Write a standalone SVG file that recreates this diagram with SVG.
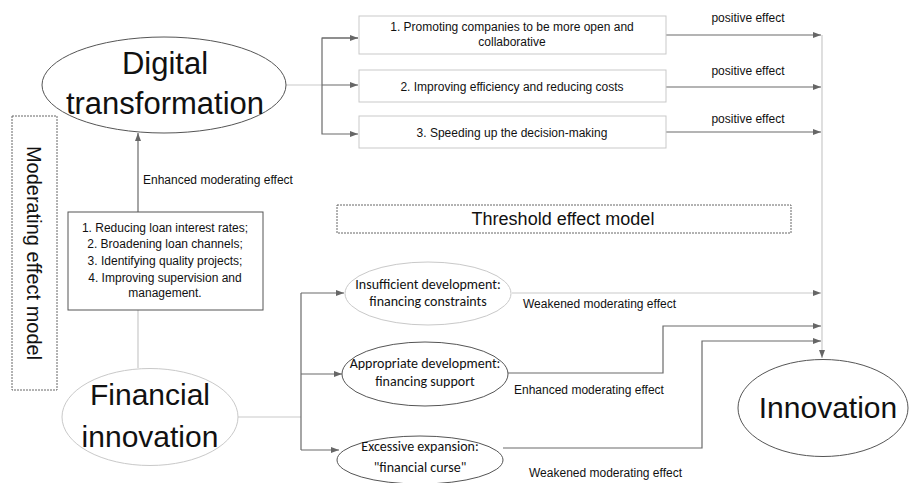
<svg xmlns="http://www.w3.org/2000/svg" width="909" height="483" viewBox="0 0 909 483">
<style>
text{font-family:"Liberation Sans",Arial,sans-serif;fill:#111}
.big{font-size:30px;text-anchor:middle}
.s{font-size:12px}
.c{text-anchor:middle}
.cal{font-family:Carlito,"Liberation Sans",sans-serif;font-size:14px;text-anchor:middle}
.dk{fill:none;stroke:#6a6a6a;stroke-width:1.2}
.lt{fill:none;stroke:#c9c9c9;stroke-width:1.2}
.nd{fill:#fff;stroke:#555;stroke-width:1}
.nl{fill:#fff;stroke:#c9c9c9;stroke-width:1}
.dash{fill:#fff;stroke:#666;stroke-width:1;stroke-dasharray:2 1}
</style>
<defs>
<marker id="ah" viewBox="0 0 8 6" refX="8" refY="3" markerWidth="8" markerHeight="6" markerUnits="userSpaceOnUse" orient="auto"><path d="M0,0 L8,3 L0,6 z" fill="#666"/></marker>
</defs>
<g id="connectors">
<path class="lt" d="M286,85 H322"/>
<path class="dk" d="M322,85 H358" marker-end="url(#ah)"/>
<path class="dk" d="M358,38 H322 V134 H358" marker-end="url(#ah)"/>
<path class="dk" d="M322,38 H358" marker-end="url(#ah)"/>
<path class="dk" d="M666,35 H821" marker-end="url(#ah)"/>
<path class="dk" d="M666,87 H821" marker-end="url(#ah)"/>
<path class="dk" d="M666,132 H821" marker-end="url(#ah)"/>
<path class="lt" d="M822,35 V350"/>
<path class="lt" d="M822,350 V358" marker-end="url(#ah)"/>
<path class="dk" d="M138,212 V133" marker-end="url(#ah)"/>
<path class="lt" d="M138,310 V368"/>
<path class="lt" d="M238,417 H301"/>
<path class="dk" d="M301,293 V450"/>
<path class="dk" d="M301,293 H344" marker-end="url(#ah)"/>
<path class="dk" d="M301,374 H342" marker-end="url(#ah)"/>
<path class="dk" d="M301,450 H339" marker-end="url(#ah)"/>
<path class="lt" d="M512,293 H821" marker-end="url(#ah)"/>
<path class="dk" d="M508,373 H663 V326 H821" marker-end="url(#ah)"/>
<path class="dk" d="M503,448 H702 V341 H821" marker-end="url(#ah)"/>
</g>
<g id="digital">
<ellipse class="nd" cx="164" cy="85" rx="122" ry="48"/>
<text class="big" x="165" y="74" style="font-size:31px">Digital</text>
<text class="big" x="165" y="114" style="font-size:31px">transformation</text>
</g>
<g id="box1">
<rect class="nl" x="359" y="16" width="307" height="38"/>
<text class="s c" x="512" y="31">1. Promoting companies to be more open and</text>
<text class="s c" x="512" y="46">collaborative</text>
</g>
<g id="box2">
<rect class="nl" x="359" y="70" width="307" height="32"/>
<text class="s c" x="512" y="91">2. Improving efficiency and reducing costs</text>
</g>
<g id="box3">
<rect class="nl" x="359" y="116" width="307" height="32"/>
<text class="s c" x="512" y="137">3. Speeding up the decision-making</text>
</g>
<g id="labels-top">
<text class="s c" x="748" y="22">positive effect</text>
<text class="s c" x="748" y="75">positive effect</text>
<text class="s c" x="748" y="123">positive effect</text>
<text class="s" x="143" y="184">Enhanced moderating effect</text>
</g>
<g id="moderating">
<rect class="dash" x="12" y="116" width="45" height="274"/>
<text transform="translate(27,253) rotate(90)" style="font-size:20px;text-anchor:middle">Moderating effect model</text>
</g>
<g id="loanbox">
<rect class="nd" x="68" y="212" width="195" height="98"/>
<text class="s c" x="165" y="232">1. Reducing loan interest rates;</text>
<text class="s c" x="165" y="248">2. Broadening loan channels;</text>
<text class="s c" x="165" y="265">3. Identifying quality projects;</text>
<text class="s c" x="165" y="282">4. Improving supervision and</text>
<text class="s c" x="165" y="297">management.</text>
</g>
<g id="financial">
<ellipse class="nl" cx="150" cy="417" rx="88" ry="48.5"/>
<text class="big" x="150" y="405">Financial</text>
<text class="big" x="150" y="447">innovation</text>
</g>
<g id="threshold">
<rect class="dash" x="337" y="205" width="454" height="28"/>
<text x="563" y="225" style="font-size:18px;text-anchor:middle">Threshold effect model</text>
</g>
<g id="insufficient">
<ellipse class="nl" cx="428" cy="293.5" rx="83" ry="31.5"/>
<text class="cal" x="428" y="289">Insufficient development:</text>
<text class="cal" x="428" y="306">financing constraints</text>
</g>
<g id="appropriate">
<ellipse class="nd" cx="425" cy="374" rx="83" ry="32"/>
<text class="cal" x="425" y="368">Appropriate development:</text>
<text class="cal" x="425" y="386">financing support</text>
</g>
<g id="excessive">
<ellipse class="nd" cx="420" cy="460" rx="83" ry="24"/>
<text class="cal" x="420" y="451">Excessive expansion:</text>
<text class="cal" x="420" y="472">"financial curse"</text>
</g>
<g id="labels-bottom">
<text class="s" x="523" y="308">Weakened moderating effect</text>
<text class="s" x="514" y="394">Enhanced moderating effect</text>
<text class="s" x="529" y="477">Weakened moderating effect</text>
</g>
<g id="innovation">
<ellipse class="nd" cx="823" cy="408" rx="85" ry="48.5"/>
<text class="big" x="828" y="418">Innovation</text>
</g>
</svg>
